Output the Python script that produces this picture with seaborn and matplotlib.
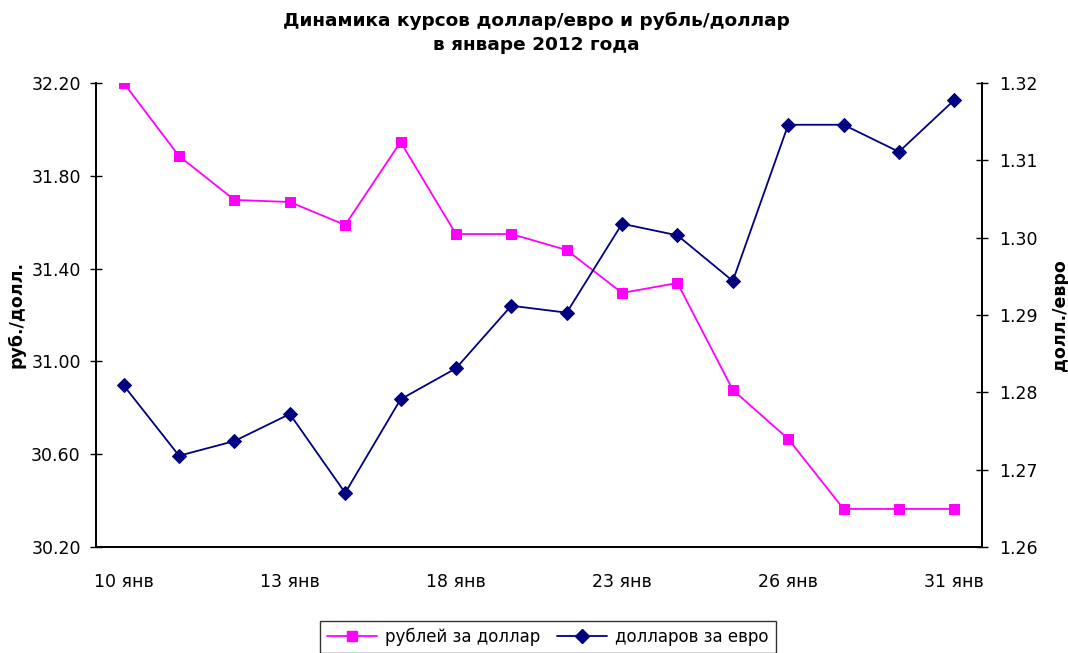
import matplotlib
matplotlib.use("Agg")
import matplotlib.pyplot as plt
from matplotlib.lines import Line2D
from matplotlib.ticker import FixedLocator, NullFormatter, FixedFormatter
import seaborn as sns
import pandas as pd

# Trading days, January 2012
dates = ["10 янв", "11 янв", "12 янв", "13 янв", "14 янв", "17 янв", "18 янв", "19 янв",
         "20 янв", "23 янв", "24 янв", "25 янв", "26 янв", "27 янв", "28 янв", "31 янв"]
# Rubles per US dollar
rub_per_usd = [32.20, 31.885, 31.696, 31.687, 31.588, 31.946, 31.549, 31.549,
               31.480, 31.295, 31.338, 30.877, 30.666, 30.364, 30.364, 30.364]
# US dollars per euro
usd_per_eur = [1.2809, 1.2718, 1.2737, 1.2772, 1.2670, 1.2791, 1.2831, 1.2912,
               1.2903, 1.3018, 1.3003, 1.2944, 1.3146, 1.3146, 1.3111, 1.3178]

left_ticks = [30.20, 30.60, 31.00, 31.40, 31.80, 32.20]
right_ticks = [1.26, 1.27, 1.28, 1.29, 1.30, 1.31, 1.32]
label_every = 3

PINK = "#FF00FF"
NAVY = "#000080"

df = pd.DataFrame({"pos": range(len(dates)), "date": dates,
                   "rub": rub_per_usd, "usd": usd_per_eur})

sns.set_style("white")
plt.rcParams["font.family"] = ["DejaVu Sans"]
plt.rcParams["text.color"] = "black"
plt.rcParams["axes.labelcolor"] = "black"
plt.rcParams["xtick.color"] = "black"
plt.rcParams["ytick.color"] = "black"

fig = plt.figure(figsize=(10.68, 6.53), dpi=100)
ax = fig.add_axes([96 / 1068, 1 - 547 / 653, (982 - 96) / 1068, (547 - 83) / 653])
ax2 = ax.twinx()

sns.lineplot(data=df, x="pos", y="rub", ax=ax, color=PINK, marker="s",
             markersize=7.5, markeredgecolor=PINK, linewidth=1.3)
sns.lineplot(data=df, x="pos", y="usd", ax=ax2, color=NAVY, marker="D",
             markersize=7, markeredgecolor=NAVY, linewidth=1.3)

ax.set_xlim(-0.5, len(dates) - 0.5)
ax.set_ylim(left_ticks[0], left_ticks[-1])
ax2.set_ylim(right_ticks[0], right_ticks[-1])

# Category boundaries get tick marks, labels sit at category centres
ax.xaxis.set_major_locator(FixedLocator([i - 0.5 for i in range(0, len(dates), label_every)]))
ax.xaxis.set_major_formatter(NullFormatter())
label_pos = list(range(0, len(dates), label_every))
ax.xaxis.set_minor_locator(FixedLocator(label_pos))
ax.xaxis.set_minor_formatter(FixedFormatter([dates[i] for i in label_pos]))
ax.tick_params(axis="x", which="major", direction="inout", length=8, width=1, color="black")
ax.tick_params(axis="x", which="minor", length=0, pad=19, labelsize=12.5)

ax.set_yticks(left_ticks)
ax.set_yticklabels([f"{v:.2f}" for v in left_ticks])
ax.tick_params(axis="y", direction="inout", length=8, width=1, color="black",
               labelsize=12.5, pad=7, left=True)
ax2.set_yticks(right_ticks)
ax2.set_yticklabels([f"{v:.2f}" for v in right_ticks])
ax2.tick_params(axis="y", direction="inout", length=8, width=1, color="black",
                labelsize=12.5, pad=8, right=True)

for a in (ax, ax2):
    a.spines["top"].set_visible(False)
    for s in ("left", "right", "bottom"):
        a.spines[s].set_color("black")
        a.spines[s].set_linewidth(1.3)
    a.grid(False)

ax.set_xlabel("")
ax.set_ylabel("руб./долл.", fontsize=12.5, fontweight="bold", labelpad=4)
ax2.set_ylabel("долл./евро", fontsize=12.5, fontweight="bold", labelpad=10)

fig.suptitle("Динамика курсов доллар/евро и рубль/доллар\nв январе 2012 года",
             x=0.502, y=0.982, fontsize=13.3, fontweight="bold", linespacing=1.45)

handles = [
    Line2D([], [], color=PINK, marker="s", markersize=7.5, linewidth=1.3),
    Line2D([], [], color=NAVY, marker="D", markersize=7, linewidth=1.3),
]
leg = fig.legend(handles, ["рублей за доллар", "долларов за евро"],
                 loc="upper center", bbox_to_anchor=(0.513, 1 - 621 / 653), ncol=2,
                 frameon=True, fancybox=False, fontsize=12, handlelength=3.0,
                 columnspacing=1.0, borderpad=0.4, handletextpad=0.5,
                 borderaxespad=0)
leg.get_frame().set_edgecolor("black")
leg.get_frame().set_linewidth(1.0)

fig.savefig("out.png", dpi=100)
